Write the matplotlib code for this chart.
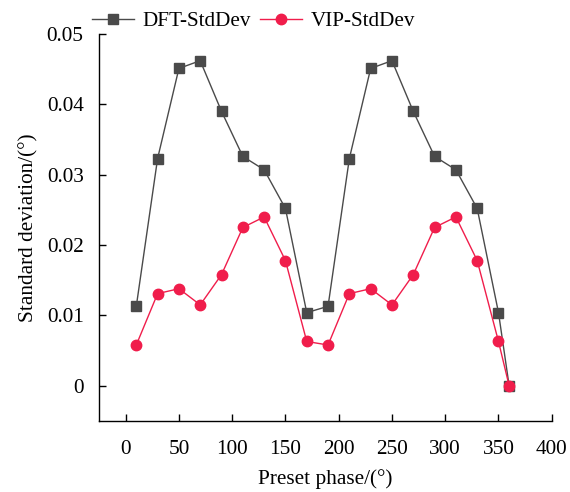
import matplotlib
matplotlib.use("Agg")
import matplotlib.pyplot as plt

phase = [10, 30, 50, 70, 90, 110, 130, 150, 170, 190, 210, 230, 250, 270, 290, 310, 330, 350, 360]
dft_std = [0.0113, 0.0323, 0.0451, 0.0462, 0.0390, 0.0326, 0.0307, 0.0252, 0.0104,
           0.0113, 0.0323, 0.0451, 0.0462, 0.0390, 0.0326, 0.0307, 0.0252, 0.0104, 0.0]
vip_std = [0.0058, 0.0131, 0.0138, 0.0115, 0.0158, 0.0225, 0.0240, 0.0178, 0.0063,
           0.0058, 0.0131, 0.0138, 0.0115, 0.0158, 0.0225, 0.0240, 0.0178, 0.0063, 0.0]
xticks = [0, 50, 100, 150, 200, 250, 300, 350, 400]
yticks = [0, 0.01, 0.02, 0.03, 0.04, 0.05]
ytick_labels = ["0", "0.01", "0.02", "0.03", "0.04", "0.05"]

plt.rcParams['font.family'] = ['Liberation Serif', 'DejaVu Serif']
plt.rcParams['font.size'] = 15

fig = plt.figure(figsize=(5.7, 4.92), dpi=100)
ax = fig.add_axes([0.1737, 0.1443, 0.7943, 0.7867])

ax.plot(phase, dft_std, color='#4a4a4a', lw=1.0, marker='s', ms=7, label='DFT-StdDev')
ax.plot(phase, vip_std, color='#f01d4b', lw=1.0, marker='o', ms=7.5, label='VIP-StdDev')

ax.set_xlim(-25, 400)
ax.set_ylim(-0.005, 0.05)
ax.set_xticks(xticks)
ax.set_yticks(yticks)
ax.set_yticklabels(ytick_labels)
ax.tick_params(direction='in', length=5, width=1, labelsize=15.3)
ax.tick_params(axis='x', pad=14)
ax.tick_params(axis='y', pad=11)
for s in ['top', 'right']:
    ax.spines[s].set_visible(False)
for s in ['left', 'bottom']:
    ax.spines[s].set_linewidth(1.0)

ax.set_xlabel('Preset phase/(°)', fontsize=15.3, labelpad=7)
ax.set_ylabel('Standard deviation/(°)', fontsize=15.3, labelpad=6)

ax.legend(loc='lower left', bbox_to_anchor=(-0.035, 0.985), ncol=2, frameon=False,
          fontsize=15.2, handlelength=2.0, columnspacing=0.45, handletextpad=0.4,
          borderaxespad=0)

fig.savefig('out.png', dpi=100)
